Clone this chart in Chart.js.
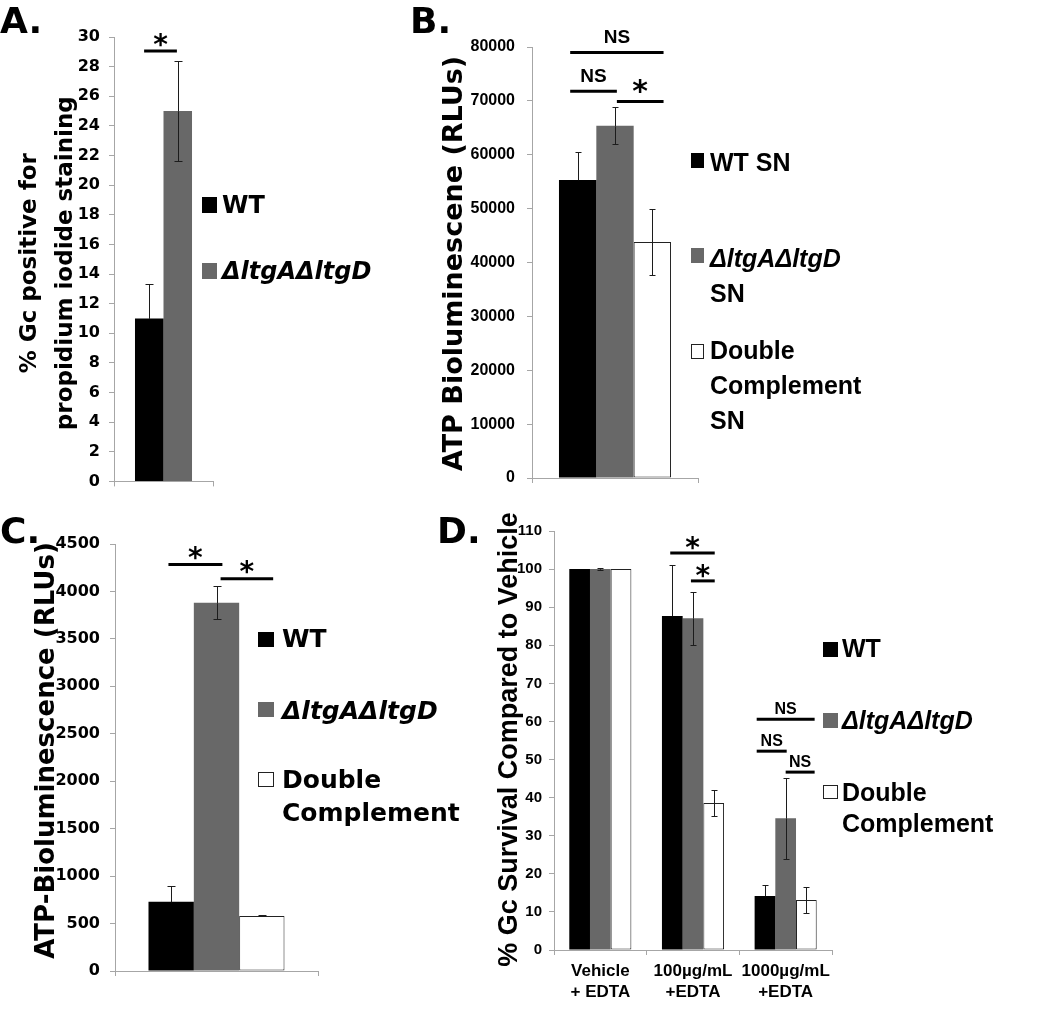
<!DOCTYPE html>
<html>
<head>
<meta charset="utf-8">
<script src="https://cdn.jsdelivr.net/npm/chart.js@4.4.1/dist/chart.umd.min.js"></script>
<style>
  body { margin: 0; background: #fff; width: 1050px; height: 1019px; position: relative; overflow: hidden; }
  canvas, .txt, .sq { position: absolute; }
  .txt { font-weight: bold; color: #000; white-space: nowrap; }
  .sq { box-sizing: border-box; }
</style>
</head>
<body>
<canvas id="chartA" width="230" height="500" style="left:0px;top:0px"></canvas>
<canvas id="chartB" width="310" height="500" style="left:400px;top:0px"></canvas>
<canvas id="chartC" width="330" height="500" style="left:0px;top:500px"></canvas>
<canvas id="chartD" width="370" height="529" style="left:480px;top:490px"></canvas>
<script>
// ---- data ----
// A: % Gc positive for propidium iodide staining
const legendA = [["WT"], ["ΔltgAΔltgD"]];
const aWT = [11.0], aWTErr = [2.3];
const aDel = [25.0], aDelErr = [3.4];
const aTicks = [0, 2, 4, 6, 8, 10, 12, 14, 16, 18, 20, 22, 24, 26, 28, 30];

// B: ATP bioluminescence of supernatants
const legendB = [["WT SN"], ["ΔltgAΔltgD", "SN"], ["Double", "Complement", "SN"]];
const bWT = [55300], bWTErr = [5200];
const bDel = [65400], bDelErr = [3400];
const bDC = [43800], bDCErr = [6200];
const bTicks = [0, 10000, 20000, 30000, 40000, 50000, 60000, 70000, 80000];

// C: ATP bioluminescence
const legendC = [["WT"], ["ΔltgAΔltgD"], ["Double", "Complement"]];
const cWT = [730], cWTErr = [170];
const cDel = [3880], cDelErr = [175];
const cDC = [580], cDCErr = [5];
const cTicks = [0, 500, 1000, 1500, 2000, 2500, 3000, 3500, 4000, 4500];

// D: % survival compared to vehicle
const legendD = [["WT"], ["ΔltgAΔltgD"], ["Double", "Complement"]];
const dCategories = [["Vehicle", "+ EDTA"], ["100µg/mL", "+EDTA"], ["1000µg/mL", "+EDTA"]];
const dWT = [100, 87.7, 14.2], dWTErr = [0, 13.3, 2.9];
const dDel = [100, 87.1, 34.6], dDelErr = [0.2, 7.0, 10.6];
const dDC = [100, 38.6, 13.1], dDCErr = [0, 3.3, 3.4];
const dTicks = [0, 10, 20, 30, 40, 50, 60, 70, 80, 90, 100, 110];

// significance marks: [category, from, to (in bar widths), y value, text]
const sigA = [[0, 0.32, 1.47, 29.06, "*"]];
const sigB = [[0, 0.3, 2.8, 79000, "NS"], [0, 0.3, 1.55, 71800, "NS"], [0, 1.55, 2.8, 69900, "*"]];
const sigC = [[0, 0.44, 1.63, 4283, "*"], [0, 1.59, 2.75, 4135, "*"]];
const sigD = [[1, 0.4, 2.55, 104.2, "*"], [1, 1.4, 2.55, 96.9, "*"],
              [2, 0.1, 2.9, 60.6, "NS"], [2, 0.1, 1.55, 52.2, "NS"], [2, 1.5, 2.9, 46.7, "NS"]];

const BLACK = "#000000", GRAY = "#686868", WHITE = "#ffffff";
const AXIS = "#a6a6a6";
const ERR = "#1c1c1c";
const DJ = '"DejaVu Sans"';
const LB = '"Liberation Sans", Arial';

// error bars, significance brackets and the y title
const annotate = {
  id: "annotate",
  afterDatasetsDraw(chart, args, opts) {
    const ctx = chart.ctx;
    const y = chart.scales.y;
    ctx.save();
    ctx.lineWidth = 1;
    opts.errors.forEach((errs, di) => {
      const meta = chart.getDatasetMeta(di);
      const fill = chart.data.datasets[di].backgroundColor;
      meta.data.forEach((bar, i) => {
        const v = chart.data.datasets[di].data[i];
        const e = errs[i];
        if (!e) return;
        const top = Math.round(y.getPixelForValue(v + e)) + 0.5;
        const mid = Math.round(y.getPixelForValue(v)) + 0.5;
        const bot = Math.round(y.getPixelForValue(v - e)) + 0.5;
        const x = Math.round(bar.x) + 0.5;
        // upper half
        ctx.strokeStyle = ERR;
        ctx.beginPath();
        ctx.moveTo(x, top); ctx.lineTo(x, mid);
        ctx.moveTo(x - opts.cap, top); ctx.lineTo(x + opts.cap, top);
        ctx.stroke();
        // lower half sits inside the bar; on black bars it disappears
        ctx.strokeStyle = fill === BLACK ? BLACK : ERR;
        ctx.beginPath();
        ctx.moveTo(x, mid); ctx.lineTo(x, bot);
        ctx.moveTo(x - opts.cap, bot); ctx.lineTo(x + opts.cap, bot);
        ctx.stroke();
      });
    });

    opts.sig.forEach(([cat, t1, t2, val, text]) => {
      const b0 = chart.getDatasetMeta(0).data[cat];
      const left = b0.x - b0.width / 2;
      const x1 = left + t1 * b0.width, x2 = left + t2 * b0.width;
      const yy = y.getPixelForValue(val);
      ctx.strokeStyle = "#000";
      ctx.lineWidth = 3;
      ctx.beginPath();
      ctx.moveTo(x1, yy); ctx.lineTo(x2, yy);
      ctx.stroke();
      ctx.fillStyle = "#000";
      ctx.textAlign = "center";
      ctx.textBaseline = "alphabetic";
      if (text === "*") {
        ctx.font = opts.starFont;
        ctx.fillText("*", (x1 + x2) / 2, yy - opts.starUp + opts.starCenter);
      } else {
        ctx.font = opts.nsFont;
        ctx.fillText(text, (x1 + x2) / 2, yy - opts.nsGap);
      }
    });

    const t = opts.title;
    const cy = (chart.chartArea.top + chart.chartArea.bottom) / 2 + t.dy;
    ctx.font = t.font;
    ctx.textAlign = "center";
    ctx.textBaseline = "middle";
    t.lines.forEach((ln, k) => {
      ctx.save();
      ctx.translate(t.x + k * t.lh, cy);
      ctx.rotate(-Math.PI / 2);
      ctx.fillText(ln, 0, 0);
      ctx.restore();
    });
    ctx.restore();
  },
};

function barSet(label, data, color) {
  return {
    label: label,
    data: data,
    backgroundColor: color,
    borderColor: color === WHITE ? "#222" : color,
    borderWidth: color === WHITE ? 1 : 0,
    borderSkipped: false,
  };
}

function makeChart(id, p) {
  const ctx = document.getElementById(id).getContext("2d");
  return new Chart(ctx, {
    type: "bar",
    data: { labels: p.labels, datasets: p.datasets },
    options: {
      responsive: false,
      animation: false,
      layout: { padding: { top: p.pad[0], right: p.pad[1], bottom: p.pad[2], left: 0 } },
      datasets: { bar: { categoryPercentage: p.catPct, barPercentage: 1 } },
      plugins: {
        legend: { display: false },
        tooltip: { enabled: false },
        annotate: {
          errors: p.errors, cap: p.cap, sig: p.sig,
          starFont: p.starFont, starUp: p.starUp, starCenter: p.starCenter,
          nsFont: p.nsFont, nsGap: p.nsGap, title: p.title,
        },
      },
      scales: {
        x: {
          grid: { offset: true, drawOnChartArea: false, tickLength: 5, color: AXIS },
          border: { color: AXIS },
          ticks: { display: !!p.xFont, font: p.xFont, color: "#000", padding: 6, maxRotation: 0, autoSkip: false },
          afterFit: (s) => { s.height = p.xH; },
        },
        y: {
          min: p.ticks[0],
          max: p.ticks[p.ticks.length - 1],
          afterBuildTicks: (s) => { s.ticks = p.ticks.map((v) => ({ value: v })); },
          grid: { drawOnChartArea: false, tickLength: 5, color: AXIS },
          border: { color: AXIS },
          ticks: { font: p.yFont, color: "#000", padding: p.yPad, callback: (v) => String(v) },
          afterFit: (s) => { s.width = p.yW; },
        },
      },
    },
    plugins: [annotate],
  });
}

// ---- panel A ----
makeChart("chartA", {
  labels: [""],
  datasets: [barSet(legendA[0].join(" "), aWT, BLACK), barSet(legendA[1].join(" "), aDel, GRAY)],
  errors: [aWTErr, aDelErr], cap: 4, sig: sigA,
  ticks: aTicks, pad: [37, 17, 12], xH: 6, yW: 114, catPct: 0.576,
  yFont: { family: DJ, size: 16, weight: "bold" }, yPad: 9,
  starFont: "bold 28px " + DJ, starUp: 12, starCenter: 15,
  nsFont: "bold 19px " + LB, nsGap: 9,
  title: { lines: ["% Gc positive for", "propidium iodide staining"], font: "bold 23px " + DJ, x: 30, lh: 36, dy: 4 },
});

// ---- panel B ----
makeChart("chartB", {
  labels: [""],
  datasets: [barSet(legendB[0].join(" "), bWT, BLACK), barSet(legendB[1].join(" "), bDel, GRAY),
             barSet(legendB[2].join(" "), bDC, WHITE)],
  errors: [bWTErr, bDelErr, bDCErr], cap: 3, sig: sigB,
  ticks: bTicks, pad: [47, 12, 16], xH: 6, yW: 132, catPct: 0.675,
  yFont: { family: LB, size: 16, weight: "bold" }, yPad: 12,
  starFont: "bold 30px " + DJ, starUp: 16, starCenter: 16,
  nsFont: "bold 19px " + LB, nsGap: 9,
  title: { lines: ["ATP Bioluminescene (RLUs)"], font: "bold 27px " + DJ, x: 55, lh: 0, dy: 1 },
});

// ---- panel C ----
makeChart("chartC", {
  labels: [""],
  datasets: [barSet(legendC[0].join(" "), cWT, BLACK), barSet(legendC[1].join(" "), cDel, GRAY),
             barSet(legendC[2].join(" "), cDC, WHITE)],
  errors: [cWTErr, cDelErr, cDCErr], cap: 4, sig: sigC,
  ticks: cTicks, pad: [44, 12, 23], xH: 6, yW: 115, catPct: 0.67,
  yFont: { family: DJ, size: 16, weight: "bold" }, yPad: 10,
  starFont: "bold 28px " + DJ, starUp: 13, starCenter: 15,
  nsFont: "bold 19px " + LB, nsGap: 9,
  title: { lines: ["ATP-Bioluminescence (RLUs)"], font: "bold 26px " + DJ, x: 47, lh: 0, dy: -7 },
});

// ---- panel D ----
makeChart("chartD", {
  labels: dCategories,
  datasets: [barSet(legendD[0].join(" "), dWT, BLACK), barSet(legendD[1].join(" "), dDel, GRAY),
             barSet(legendD[2].join(" "), dDC, WHITE)],
  errors: [dWTErr, dDelErr, dDCErr], cap: 3, sig: sigD,
  ticks: dTicks, pad: [41, 18, 9], xH: 60, yW: 74, catPct: 0.67,
  xFont: { family: LB, size: 17, weight: "bold", lineHeight: 1.24 },
  yFont: { family: LB, size: 15, weight: "bold" }, yPad: 7,
  starFont: "bold 28px " + DJ, starUp: 11, starCenter: 15,
  nsFont: "bold 16px " + LB, nsGap: 5,
  title: { lines: ["% Gc Survival Compared to Vehicle"], font: "bold 27px " + LB, x: 30, lh: 0, dy: -1 },
});

// ---- panel letters and legends (HTML text) ----
function addText(html, left, top, font, lineH) {
  const d = document.createElement("div");
  d.className = "txt";
  d.style.left = left + "px";
  d.style.top = top + "px";
  d.style.font = font;
  d.style.lineHeight = lineH + "px";
  d.innerHTML = html;
  document.body.appendChild(d);
}

function addSquare(box, color) {
  const s = document.createElement("div");
  s.className = "sq";
  s.style.left = box[0] + "px";
  s.style.top = box[1] + "px";
  s.style.width = box[2] + "px";
  s.style.height = box[3] + "px";
  s.style.background = color;
  if (color === WHITE) s.style.border = "1px solid #222";
  document.body.appendChild(s);
}

function addLegend(names, colors, squares, textX, centers, font, pitch) {
  names.forEach((lines, i) => {
    addSquare(squares[i], colors[i]);
    const html = lines.map((ln) => (ln.startsWith("Δ") ? "<i>" + ln + "</i>" : ln)).join("<br>");
    addText(html, textX, centers[i] - pitch / 2, font, pitch);
  });
}

const letterFont = "bold 36px " + DJ;
addText("A.", 0, 3, letterFont, 36);
addText("B.", 410, 3, letterFont, 36);
addText("C.", 0, 513, letterFont, 36);
addText("D.", 437, 513, letterFont, 36);

addLegend(legendA, [BLACK, GRAY], [[202, 197, 15, 16], [202, 263, 15, 16]],
  222, [205, 271], "bold 24px " + DJ, 34);
addLegend(legendB, [BLACK, GRAY, WHITE], [[691, 153, 13, 15], [691, 248, 13, 15], [691, 344, 13, 15]],
  710, [162, 258, 350], "bold 25px " + LB, 35);
addLegend(legendC, [BLACK, GRAY, WHITE], [[258, 632, 16, 15], [258, 702, 16, 15], [258, 772, 16, 15]],
  282, [638, 710, 779], "bold 25px " + DJ, 33);
addLegend(legendD, [BLACK, GRAY, WHITE], [[823, 642, 15, 15], [823, 713, 15, 15], [823, 785, 15, 14]],
  842, [648, 720, 792], "bold 25px " + LB, 31);
</script>
</body>
</html>
